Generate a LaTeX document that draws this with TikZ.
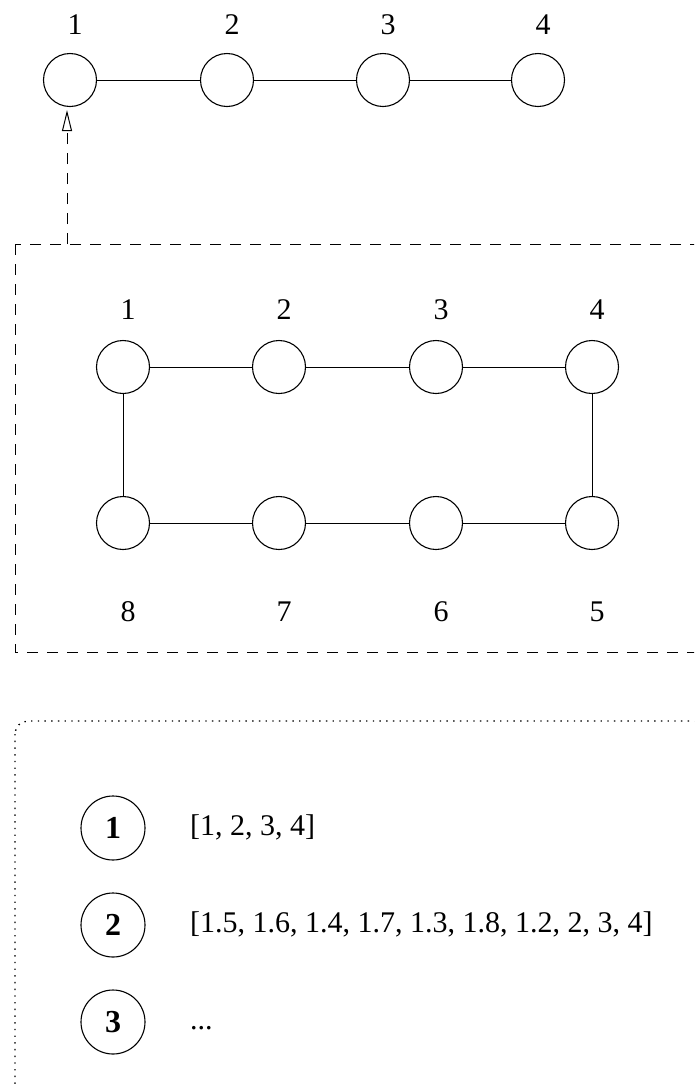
\documentclass[tikz,border=0pt]{standalone}
\usepackage{fontspec}
\setmainfont{Liberation Serif}
\usetikzlibrary{arrows.meta}
\begin{document}
\begin{tikzpicture}[x=1pt,y=-1pt,
  vtx/.style={circle,draw,line width=1.1pt,minimum size=53pt,inner sep=0pt},
  lbl/.style={font=\fontsize{30}{36}\selectfont,inner sep=0pt},
  edge/.style={line width=1pt},
  stepnum/.style={circle,draw,line width=1.1pt,minimum size=64pt,inner sep=0pt,font=\fontsize{32}{38}\selectfont\bfseries},
  listtxt/.style={anchor=base west,font=\fontsize{30}{36}\selectfont,inner sep=0pt},
  dashbox/.style={line width=1pt,dash pattern=on 11pt off 9pt},
  dotbox/.style={line width=1.4pt,dash pattern=on 1.4pt off 5.3pt,rounded corners=13pt}]
\useasboundingbox (0,0) rectangle (694,1085);
\clip (0,0) rectangle (694,1085);

% top chain
\foreach \i/\x in {1/70,2/227,3/383,4/538}{
  \node[vtx] (t\i) at (\x,80) {};
  \node[lbl] (tl\i) at (\x+5,25) {\i};
}
\draw[edge] (t1) -- (t2);
\draw[edge] (t2) -- (t3);
\draw[edge] (t3) -- (t4);

% dashed box
\draw[dashbox] (15,244) rectangle (720,652);
\coordinate (arrstart) at (67,244);
\draw[dashbox,-{Triangle[open,length=21pt,width=10pt,line width=1pt]},shorten >=3pt]
  (arrstart) -- (arrstart |- t1.south);

% ring
\foreach \i/\x in {1/123,2/279,3/436,4/592}{
  \node[vtx] (m\i) at (\x,367) {};
  \node[lbl] (ml\i) at (\x+5,310) {\i};
}
\foreach \i/\x in {8/123,7/279,6/436,5/592}{
  \node[vtx] (m\i) at (\x,523) {};
  \node[lbl] (ml\i) at (\x+5,612) {\i};
}
\draw[edge] (m1) -- (m2);
\draw[edge] (m2) -- (m3);
\draw[edge] (m3) -- (m4);
\draw[edge] (m4) -- (m5);
\draw[edge] (m5) -- (m6);
\draw[edge] (m6) -- (m7);
\draw[edge] (m7) -- (m8);
\draw[edge] (m8) -- (m1);

% dotted box
\draw[dotbox] (15,721) rectangle (707,1098);
\node[stepnum] (s1) at (113,828) {1};
\node[stepnum] (s2) at (113,925) {2};
\node[stepnum] (s3) at (113,1022) {3};
\node[listtxt] (x1) at (190,835) {[1, 2, 3, 4]};
\node[listtxt] (x2) at (190,932) {[1.5, 1.6, 1.4, 1.7, 1.3, 1.8, 1.2, 2, 3, 4]};
\node[listtxt] (x3) at (190,1029) {...};
\end{tikzpicture}
\end{document}
